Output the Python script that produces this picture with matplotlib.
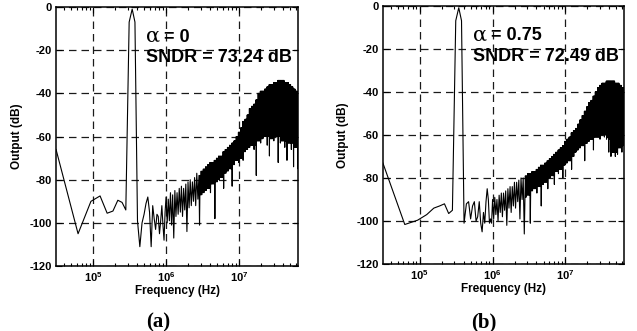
import numpy as np
import matplotlib
matplotlib.use("Agg")
import matplotlib.pyplot as plt
from matplotlib.ticker import FixedLocator, LogLocator, NullFormatter, FuncFormatter

plt.rcParams["font.family"] = ["Liberation Sans", "DejaVu Sans"]
plt.rcParams["font.weight"] = "bold"
plt.rcParams["axes.unicode_minus"] = False
plt.rcParams["mathtext.fontset"] = "custom"
plt.rcParams["mathtext.rm"] = "Liberation Sans:bold"
plt.rcParams["mathtext.bf"] = "Liberation Sans:bold"

# FFT bin spacing of the output spectrum (Hz)
BIN_HZ = 31250.0
LOW_BINS = np.arange(1, 32)          # bins 1..31 drawn one by one

# (a) alpha = 0
A_LOW_DB = [-66, -105, -90, -87.5, -95.5, -94.5, -89.5, -90.5, -94, -7, -1, -7,
            -99, -111, -100, -96, -91, -88, -95, -111, -92, -98, -103, -96,
            -97, -105, -99, -92, -101, -108, -95]
# (b) alpha = 0.75
B_LOW_DB = [-73, -101.6, -99.6, -97, -94, -93, -92, -96.5, -95, -7, -1, -7,
            -101, -92, -91, -99, -93, -91, -100, -98, -91, -101, -105, -96,
            -101, -91, -85, -90, -101, -99, -101]

# dense part of the spectrum: upper / lower excursions read every 0.03 decade
DENSE_LOG_F = np.round(np.arange(6.0, 7.8001, 0.03), 2)
A_HI_DB = [-88, -89, -86, -87, -85, -86, -84, -83, -84, -82, -81, -80, -81, -79, -77,
           -78, -76, -75, -74, -73, -72, -72, -71, -70, -69, -69, -67, -66, -65, -64,
           -63, -62, -60, -58, -56, -53, -52, -50, -47, -46, -45, -43, -40, -39, -39,
           -38, -37, -36, -36, -35, -35, -34, -34, -34, -35, -35, -36, -37, -38, -39, -40]
A_LO_DB = [-100, -99, -101, -107, -97, -96, -95, -97, -94, -104, -93, -92, -90, -92, -89,
           -101, -87, -86, -85, -84, -86, -82, -98, -81, -80, -79, -84, -77, -76, -75,
           -83, -73, -71, -72, -70, -71, -67, -66, -65, -64, -66, -78, -62, -63, -61,
           -60, -64, -69, -61, -62, -60, -72, -63, -62, -65, -71, -63, -66, -74, -65, -75]
B_HI_DB = [-90, -89, -90, -88, -87, -87, -86, -85, -84, -84, -82, -82, -81, -80, -80,
           -79, -78, -78, -77, -77, -76, -75, -74, -74, -73, -72, -71, -70, -69, -68,
           -67, -66, -65, -63, -62, -61, -59, -58, -57, -55, -53, -51, -49, -47, -45,
           -44, -42, -40, -38, -37, -36, -36, -35, -35, -35, -35, -36, -36, -37, -38, -39]
B_LO_DB = [-99, -97, -100, -96, -98, -95, -102, -94, -96, -93, -94, -91, -99, -90, -106,
           -89, -88, -101, -86, -85, -87, -84, -93, -83, -82, -85, -80, -79, -83, -77,
           -78, -76, -80, -74, -73, -72, -76, -70, -68, -67, -66, -65, -72, -64, -63,
           -62, -67, -61, -61, -62, -60, -61, -62, -68, -70, -68, -70, -69, -66, -68, -65]

PANELS = [
    ("(a)", "0", "73.24", A_LOW_DB, A_HI_DB, A_LO_DB),
    ("(b)", "0.75", "72.49", B_LOW_DB, B_HI_DB, B_LO_DB),
]


def spectrum(low_db, hi_db, lo_db):
    f = list(LOW_BINS * BIN_HZ)
    y = list(low_db)
    m = len(lo_db)
    for i, (lf, h, l) in enumerate(zip(DENSE_LOG_F, hi_db, lo_db)):
        # bins get denser with frequency -> more swings per 0.03 decade cell;
        # only the first swing of a cell reaches a deep dip
        shallow = max(lo_db[max(i - 1, 0)], l, lo_db[min(i + 1, m - 1)])
        n = 1 if lf < 6.45 else (2 if lf < 6.9 else 4)
        step = 0.03 / (2 * n)
        for k in range(n):
            f += [10 ** (lf + 2 * k * step), 10 ** (lf + (2 * k + 1) * step)]
            y += [h, l if k == 0 else shallow]
    return np.array(f), np.array(y)


fig = plt.figure(figsize=(6.37, 3.31), dpi=100)
rects = [[0.088, 0.196, 0.380, 0.783], [0.601, 0.202, 0.379, 0.781]]

for rect, (tag, alpha, sndr, low, hi, lo) in zip(rects, PANELS):
    ax = fig.add_axes(rect)
    f, y = spectrum(low, hi, lo)
    ax.semilogx(f, y, color="black", linewidth=0.8)
    ax.set_xlim(BIN_HZ, 6.4e7)
    ax.set_ylim(-120, 0)
    ax.yaxis.set_major_locator(FixedLocator(np.arange(-120, 1, 20)))
    ax.xaxis.set_major_locator(FixedLocator([1e5, 1e6, 1e7]))
    ax.xaxis.set_minor_locator(LogLocator(base=10, subs=np.arange(2, 10)))
    ax.xaxis.set_minor_formatter(NullFormatter())
    ax.xaxis.set_major_formatter(
        FuncFormatter(lambda v, p: r"$\mathbf{10^{%d}}$" % round(np.log10(v))))
    ax.grid(True, which="major", color="#1a1a1a", linestyle=(0, (6, 4)), linewidth=0.9)
    ax.tick_params(which="both", direction="in", top=True, right=True,
                   labelsize=8, width=0.8)
    ax.tick_params(which="major", length=4, pad=3)
    ax.tick_params(which="minor", length=2.5)
    for s in ax.spines.values():
        s.set_linewidth(1.1)
    ax.set_xlabel("Frequency (Hz)", fontsize=8.5, fontweight="bold", labelpad=1)
    ax.set_ylabel("Output (dB)", fontsize=8.5, fontweight="bold", labelpad=5)

    ax.text(0.372, 0.866, "\u03b1", transform=ax.transAxes, fontsize=15,
            family="DejaVu Serif", fontweight="normal", va="baseline")
    ax.text(0.448, 0.866, "= " + alpha, transform=ax.transAxes, fontsize=13,
            fontweight="bold", va="baseline")
    ax.text(0.372, 0.786, "SNDR = " + sndr + " dB", transform=ax.transAxes,
            fontsize=13, fontweight="bold", va="baseline")

    cx = rect[0] + rect[2] * 0.42
    fig.text(cx, 0.012, tag, ha="center", va="baseline", fontsize=15,
             family="Liberation Serif", fontweight="bold")

fig.savefig("out.png", dpi=100)
